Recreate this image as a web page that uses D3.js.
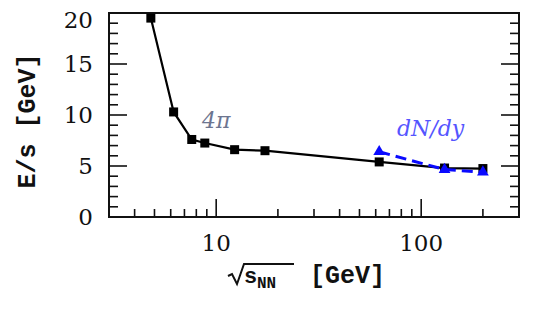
<!DOCTYPE html>
<meta charset="utf-8">
<style>
  body { margin: 0; background: #fff; }
  .frame { fill: none; stroke: #111; stroke-width: 2; }
  .tick line { stroke: #111; stroke-width: 1.6; }
  .ticklab { font-family: "DejaVu Serif", serif; font-size: 23px; fill: #111; }
  .title { font-family: "Liberation Mono", monospace; font-weight: bold; font-size: 25px; fill: #111; }
</style>
<body>
<script src="https://cdnjs.cloudflare.com/ajax/libs/d3/7.8.5/d3.min.js"></script>
<script>

// data
var sqrtS      = [4.8, 6.2, 7.6, 8.8, 12.3, 17.3, 62.4, 130, 200];
var eOverS4pi  = [19.5, 10.3, 7.6, 7.25, 6.6, 6.5, 5.4, 4.8, 4.75];
var sqrtSdNdy  = [62.4, 130, 200];
var eOverSdNdy = [6.4, 4.65, 4.4];
var yTicks = [0, 5, 10, 15, 20];
var xTickLabels = [10, 100];

var width = 533, height = 312;
var margin = {top: 13, right: 14, bottom: 95, left: 109};

var svg = d3.select("body").append("svg")
    .attr("width", width)
    .attr("height", height);

var x = d3.scaleLog()
    .domain([3, 300])
    .range([margin.left, width - margin.right]);

var y = d3.scaleLinear()
    .domain([0, 20])
    .range([height - margin.bottom, margin.top]);

var x0 = x.range()[0], x1 = x.range()[1];
var y0 = y.range()[0], y1 = y.range()[1];

// ticks (all inward)
var minorY = d3.range(0, 21);
var g = svg.append("g").attr("class", "tick");
minorY.forEach(function(v) {
  var len = (v % 5 === 0) ? 18 : 9;
  g.append("line").attr("x1", x0).attr("x2", x0 + len).attr("y1", y(v)).attr("y2", y(v));
  g.append("line").attr("x1", x1).attr("x2", x1 - len).attr("y1", y(v)).attr("y2", y(v));
});

var xt = [];
[1, 10, 100].forEach(function(d) {
  for (var k = 1; k <= 9; k++) {
    var v = d * k;
    if (v >= 3 && v <= 300) xt.push(v);
  }
});
xt.forEach(function(v) {
  var major = (v === 10 || v === 100);
  g.append("line").attr("x1", x(v)).attr("x2", x(v))
    .attr("y1", y0).attr("y2", y0 - (major ? 18 : 8));
});

svg.append("rect").attr("class", "frame")
    .attr("x", x0).attr("y", y1)
    .attr("width", x1 - x0).attr("height", y0 - y1);

// tick labels
svg.selectAll(".ylab").data(yTicks).enter().append("text")
    .attr("class", "ticklab")
    .attr("x", x0 - 16)
    .attr("y", function(d) { return y(d) + (d === 20 ? 7 : 0); })
    .attr("dy", "0.36em")
    .attr("text-anchor", "end")
    .text(function(d) { return d; });

svg.selectAll(".xlab").data(xTickLabels).enter().append("text")
    .attr("class", "ticklab")
    .attr("x", function(d) { return x(d); })
    .attr("y", y0 + 34)
    .attr("text-anchor", "middle")
    .text(function(d) { return d; });

// axis titles
svg.append("text").attr("class", "title")
    .attr("transform", "translate(35,121) rotate(-90)")
    .attr("text-anchor", "middle")
    .text("E/s [GeV]");

var xt0 = svg.append("g").attr("transform", "translate(228,283)");
// radical sign with overline
xt0.append("path")
    .attr("d", "M0,-7 L4,-9 L9,1 L16,-19 L66,-19")
    .attr("fill", "none").attr("stroke", "#111").attr("stroke-width", 2)
    .attr("stroke-linejoin", "miter");
xt0.append("text").attr("class", "title").attr("x", 16).attr("y", 0)
    .style("font-size", "22px").text("s");
xt0.append("text").attr("class", "title").attr("x", 29).attr("y", 5)
    .style("font-size", "16px").text("NN");
xt0.append("text").attr("class", "title").attr("x", 82).attr("y", 0).text("[GeV]");

// curves
var line = d3.line()
    .x(function(d) { return x(d[0]); })
    .y(function(d) { return y(d[1]); });

var blackPts = d3.zip(sqrtS, eOverS4pi);
var bluePts = d3.zip(sqrtSdNdy, eOverSdNdy);

svg.append("path").datum(blackPts)
    .attr("d", line)
    .attr("fill", "none").attr("stroke", "#000").attr("stroke-width", 2.2);

svg.selectAll(".sq").data(blackPts).enter().append("rect")
    .attr("x", function(d) { return x(d[0]) - 4.5; })
    .attr("y", function(d) { return y(d[1]) - 4.5; })
    .attr("width", 9).attr("height", 9)
    .attr("fill", "#000");

svg.append("path").datum(bluePts)
    .attr("d", line)
    .attr("fill", "none").attr("stroke", "#0a0aff").attr("stroke-width", 3)
    .attr("stroke-dasharray", "11,6");

svg.selectAll(".tri").data(bluePts).enter().append("path")
    .attr("transform", function(d) { return "translate(" + x(d[0]) + "," + y(d[1]) + ")"; })
    .attr("d", d3.symbol().type(d3.symbolTriangle).size(60))
    .attr("fill", "#0a0aff");

// curve labels
svg.append("text")
    .attr("x", 202).attr("y", 128)
    .style("font-family", "DejaVu Serif").style("font-style", "italic")
    .style("font-size", "22px").style("fill", "#6d7590")
    .text("4\u03C0");

svg.append("text")
    .attr("x", 397).attr("y", 136)
    .style("font-family", "DejaVu Serif").style("font-style", "italic")
    .style("font-size", "22px").style("fill", "#5555ff")
    .text("dN/dy");

</script>
</body>
